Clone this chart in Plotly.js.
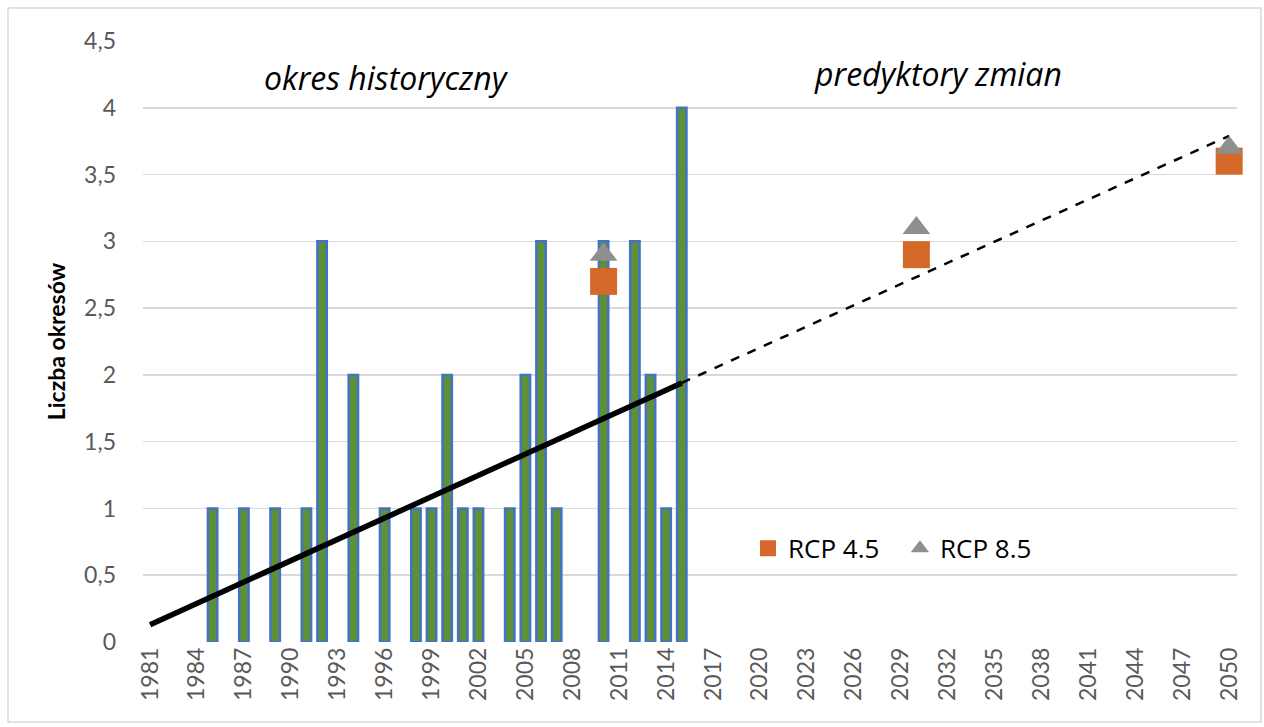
<!DOCTYPE html>
<html>
<head>
<meta charset="utf-8">
<script src="https://cdn.plot.ly/plotly-3.0.1.min.js"></script>
<style>html,body{margin:0;padding:0;background:#fff;}#chart{width:1264px;height:727px;}</style>
</head>
<body>
<div id="chart"></div>
<script>
// Historical bars
var barYears = [1985,1987,1989,1991,1992,1994,1996,1998,1999,2000,2001,2002,2004,2005,2006,2007,2010,2012,2013,2014,2015];
var barValues = [1,1,1,1,3,2,1,1,1,2,1,1,1,2,3,1,3,3,2,1,4];

// Trend line
var trendSolidX = [1981, 2015];
var trendSolidY = [0.13, 1.94];
var trendDashX = [2015, 2050];
var trendDashY = [1.94, 3.79];

// Scenario markers
var scenYears = [2010, 2030, 2050];
var rcp45 = [2.7, 2.9, 3.6];
var rcp85 = [2.9, 3.1, 3.7];

var yTickVals = [0,0.5,1,1.5,2,2.5,3,3.5,4,4.5];
var yTickText = ['0','0,5','1','1,5','2','2,5','3','3,5','4','4,5'];

var font = 'Lato, "Open Sans", "Liberation Sans", sans-serif';
var ofont = '"Open Sans", Lato, sans-serif';

var traces = [
  {type:'bar', x:barYears, y:barValues, width:0.6,
   marker:{color:'#5E9136', line:{color:'#4472C4', width:2.5}},
   showlegend:false, hoverinfo:'x+y'},
  {type:'scatter', mode:'lines', x:trendSolidX, y:trendSolidY,
   line:{color:'#000', width:5.5}, showlegend:false},
  {type:'scatter', mode:'lines', x:trendDashX, y:trendDashY,
   line:{color:'#000', width:2.5, dash:'dash'}, showlegend:false},
  {type:'scatter', mode:'markers', name:'RCP 4.5', x:scenYears, y:rcp45,
   marker:{symbol:'square', size:27, color:'#D4692A'}, cliponaxis:false},
  {type:'scatter', mode:'markers', name:'RCP 8.5', x:scenYears, y:rcp85,
   marker:{symbol:'triangle-up', size:24, color:'#8F8F8F'}, cliponaxis:false}
];

var layout = {
  width:1264, height:727,
  margin:{l:143, r:27, t:41, b:85},
  paper_bgcolor:'#fff', plot_bgcolor:'#fff',
  font:{family:font, color:'#595959'},
  bargap:0,
  xaxis:{range:[1980.55, 2050.5], tickmode:'linear', tick0:1981, dtick:3,
         tickangle:-90, tickfont:{size:23, color:'#595959', family:font},
         showgrid:false, zeroline:false, showline:false, ticks:'', ticklen:0},
  yaxis:{range:[0,4.5], tickvals:yTickVals, ticktext:yTickText,
         tickfont:{size:23, color:'#595959', family:font},
         showgrid:true, gridcolor:'#D9D9D9', gridwidth:1.5, zeroline:false,
         ticks:'', ticklabelstandoff:26,
         title:{text:'Liczba okresów', font:{size:23, color:'#000', family:font, weight:'bold'}, standoff:12}},
  legend:{orientation:'h', x:0.553, y:0.156, xanchor:'left', yanchor:'middle',
          font:{size:26, color:'#000', family:ofont}, bgcolor:'rgba(0,0,0,0)',
          itemwidth:30, tracegroupgap:0, entrywidth:107, entrywidthmode:'pixels'},
  annotations:[
    {xref:'paper', yref:'paper', x:(386-143)/1094, y:(642-78)/601, xanchor:'center', yanchor:'middle',
     text:'<i>okres historyczny</i>', showarrow:false, font:{size:32, color:'#000', family:ofont}},
    {xref:'paper', yref:'paper', x:(938-143)/1094, y:(642-74)/601, xanchor:'center', yanchor:'middle',
     text:'<i>predyktory zmian</i>', showarrow:false, font:{size:32, color:'#000', family:ofont}}
  ],
  shapes:[
    {type:'rect', xref:'paper', yref:'paper', x0:(8-143)/1094, x1:(1261-143)/1094, y0:(642-722)/601, y1:(642-8)/601,
     line:{color:'#D9D9D9', width:1.5}, fillcolor:'rgba(0,0,0,0)', layer:'below'}
  ]
};

Plotly.newPlot('chart', traces, layout, {displayModeBar:false, staticPlot:true});
</script>
</body>
</html>
